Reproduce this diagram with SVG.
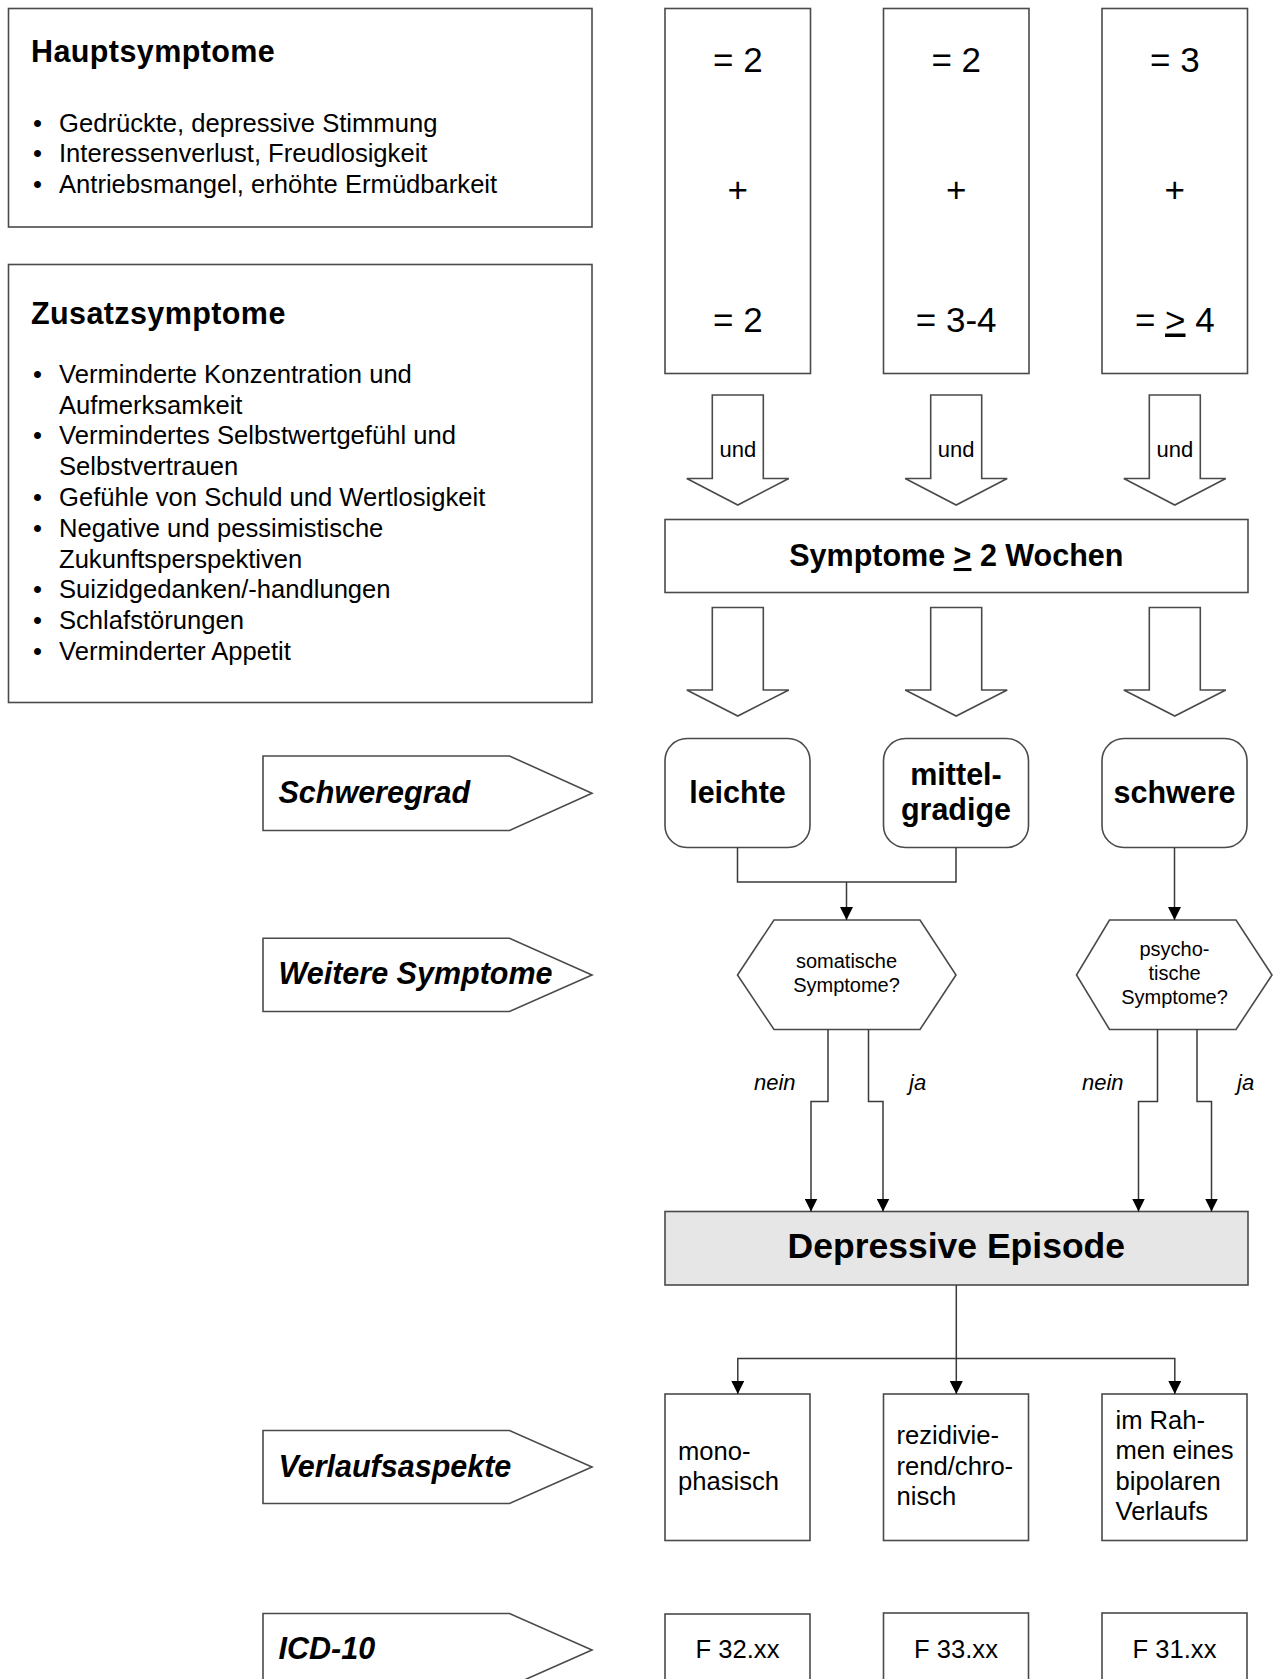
<svg xmlns="http://www.w3.org/2000/svg" width="1273" height="1679" viewBox="0 0 1273 1679">
<style>
.box{fill:#fff;stroke:#4a4a4a;stroke-width:1.6}
.grey{fill:#e6e6e6;stroke:#4a4a4a;stroke-width:1.6}
.ln{fill:none;stroke:#3a3a3a;stroke-width:1.5}
.t{font-family:"Liberation Sans",Arial,sans-serif;fill:#000}
.reg{font-size:25.6px}
.b{font-weight:bold;font-size:30.5px}
.bi{font-weight:bold;font-style:italic;font-size:30.5px}
.big{font-weight:bold;font-size:35.5px}
.num{font-size:35px}
.und{font-size:22px}
.hx{font-size:20px}
.it{font-style:italic;font-size:22px}
.c{text-anchor:middle}
</style>
<defs>
<marker id="ah" viewBox="0 0 10 10" refX="10" refY="5" markerWidth="13" markerHeight="13" markerUnits="userSpaceOnUse" orient="auto">
<path d="M0,0 L10,5 L0,10 z" fill="#000"/>
</marker>
</defs>
<rect width="1273" height="1679" fill="#fff"/>

<g id="hauptsymptome">
<rect class="box" x="8.5" y="8.5" width="583.5" height="218.5"/>
<text class="t b" x="31" y="61.5" style="letter-spacing:0.4px">Hauptsymptome</text>
<text class="t reg c" x="37.5" y="131.7">•</text>
<text class="t reg" x="59" y="131.7">Gedrückte, depressive Stimmung</text>
<text class="t reg c" x="37.5" y="162">•</text>
<text class="t reg" x="59" y="162">Interessenverlust, Freudlosigkeit</text>
<text class="t reg c" x="37.5" y="192.7">•</text>
<text class="t reg" x="59" y="192.7">Antriebsmangel, erhöhte Ermüdbarkeit</text>
</g>

<g id="zusatzsymptome">
<rect class="box" x="8.5" y="264.5" width="583.5" height="438"/>
<text class="t b" x="31" y="324" style="letter-spacing:0.4px">Zusatzsymptome</text>
<text class="t reg c" x="37.5" y="382.7">•</text>
<text class="t reg" x="59" y="382.7">Verminderte Konzentration und</text>
<text class="t reg" x="59" y="413.5">Aufmerksamkeit</text>
<text class="t reg c" x="37.5" y="444.3">•</text>
<text class="t reg" x="59" y="444.3">Vermindertes Selbstwertgefühl und</text>
<text class="t reg" x="59" y="475.1">Selbstvertrauen</text>
<text class="t reg c" x="37.5" y="505.9">•</text>
<text class="t reg" x="59" y="505.9">Gefühle von Schuld und Wertlosigkeit</text>
<text class="t reg c" x="37.5" y="536.7">•</text>
<text class="t reg" x="59" y="536.7">Negative und pessimistische</text>
<text class="t reg" x="59" y="567.5">Zukunftsperspektiven</text>
<text class="t reg c" x="37.5" y="598.3">•</text>
<text class="t reg" x="59" y="598.3">Suizidgedanken/-handlungen</text>
<text class="t reg c" x="37.5" y="629.1">•</text>
<text class="t reg" x="59" y="629.1">Schlafstörungen</text>
<text class="t reg c" x="37.5" y="659.9">•</text>
<text class="t reg" x="59" y="659.9">Verminderter Appetit</text>
</g>

<g id="kriterien-leicht">
<rect class="box" x="665" y="8.5" width="145.5" height="365"/>
<text class="t num c" x="737.8" y="71.5">= 2</text>
<text class="t num c" x="737.8" y="202">+</text>
<text class="t num c" x="737.8" y="331.5">= 2</text>
</g>
<g id="kriterien-mittel">
<rect class="box" x="883.5" y="8.5" width="145.5" height="365"/>
<text class="t num c" x="956.2" y="71.5">= 2</text>
<text class="t num c" x="956.2" y="202">+</text>
<text class="t num c" x="956.2" y="331.5">= 3-4</text>
</g>
<g id="kriterien-schwer">
<rect class="box" x="1102" y="8.5" width="145.5" height="365"/>
<text class="t num c" x="1174.8" y="71.5">= 3</text>
<text class="t num c" x="1174.8" y="202">+</text>
<text class="t num c" x="1174.8" y="331.5">= <tspan text-decoration="underline">&gt;</tspan> 4</text>
</g>

<g id="und-pfeile">
<polygon class="box" points="712.3,395 763.3,395 763.3,478.5 788.8,478.5 737.8,505 686.8,478.5 712.3,478.5"/>
<text class="t und c" x="737.8" y="457">und</text>
<polygon class="box" points="930.7,395 981.7,395 981.7,478.5 1007.2,478.5 956.2,505 905.2,478.5 930.7,478.5"/>
<text class="t und c" x="956.2" y="457">und</text>
<polygon class="box" points="1149.3,395 1200.3,395 1200.3,478.5 1225.8,478.5 1174.8,505 1123.8,478.5 1149.3,478.5"/>
<text class="t und c" x="1174.8" y="457">und</text>
</g>

<g id="dauer">
<rect class="box" x="665" y="519.5" width="583" height="73"/>
<text class="t b c" x="956.3" y="566">Symptome <tspan text-decoration="underline">&gt;</tspan> 2 Wochen</text>
</g>

<g id="block-pfeile">
<polygon class="box" points="712.3,607.5 763.3,607.5 763.3,690 788.8,690 737.8,716 686.8,690 712.3,690"/>
<polygon class="box" points="930.7,607.5 981.7,607.5 981.7,690 1007.2,690 956.2,716 905.2,690 930.7,690"/>
<polygon class="box" points="1149.3,607.5 1200.3,607.5 1200.3,690 1225.8,690 1174.8,716 1123.8,690 1149.3,690"/>
</g>

<g id="label-schweregrad">
<polygon class="box" points="263,756 509.5,756 592,793.3 509.5,830.5 263,830.5"/>
<text class="t bi" x="278.5" y="803">Schweregrad</text>
</g>
<g id="leichte">
<rect class="box" x="665" y="738.5" width="145" height="109" rx="22"/>
<text class="t b c" x="737.5" y="802.5">leichte</text>
</g>
<g id="mittelgradige">
<rect class="box" x="883.5" y="738.5" width="145" height="109" rx="22"/>
<text class="t b c" x="956" y="785">mittel-</text>
<text class="t b c" x="956" y="820">gradige</text>
</g>
<g id="schwere">
<rect class="box" x="1102" y="738.5" width="145" height="109" rx="22"/>
<text class="t b c" x="1174.5" y="802.5">schwere</text>
</g>

<g id="label-weitere">
<polygon class="box" points="263,938.3 509.5,938.3 592,975 509.5,1011.5 263,1011.5"/>
<text class="t bi" x="278.5" y="984">Weitere Symptome</text>
</g>
<g id="somatische">
<polygon class="box" points="774,920 920,920 956,975 920,1029.5 774,1029.5 737.5,975"/>
<text class="t hx c" x="846.5" y="968">somatische</text>
<text class="t hx c" x="846.5" y="991.5">Symptome?</text>
</g>
<g id="psychotische">
<polygon class="box" points="1109.5,920 1236,920 1272,975 1236,1029.5 1109.5,1029.5 1076.5,975"/>
<text class="t hx c" x="1174.5" y="956">psycho-</text>
<text class="t hx c" x="1174.5" y="980">tische</text>
<text class="t hx c" x="1174.5" y="1004">Symptome?</text>
</g>

<g id="depressive-episode">
<rect class="grey" x="665" y="1211.5" width="583" height="73.5"/>
<text class="t big c" x="956.3" y="1258">Depressive Episode</text>
</g>

<g id="label-verlauf">
<polygon class="box" points="263,1430.5 509.5,1430.5 592,1467 509.5,1503.5 263,1503.5"/>
<text class="t bi" x="278.5" y="1477">Verlaufsaspekte</text>
</g>
<g id="monophasisch">
<rect class="box" x="665" y="1394" width="145" height="146.5"/>
<text class="t reg" x="678" y="1459.5">mono-</text>
<text class="t reg" x="678" y="1489.5">phasisch</text>
</g>
<g id="rezidivierend">
<rect class="box" x="883.5" y="1394" width="145" height="146.5"/>
<text class="t reg" x="896.5" y="1444">rezidivie-</text>
<text class="t reg" x="896.5" y="1474.5">rend/chro-</text>
<text class="t reg" x="896.5" y="1505">nisch</text>
</g>
<g id="bipolar">
<rect class="box" x="1102" y="1394" width="145" height="146.5"/>
<text class="t reg" x="1115.5" y="1428.5">im Rah-</text>
<text class="t reg" x="1115.5" y="1459">men eines</text>
<text class="t reg" x="1115.5" y="1489.5">bipolaren</text>
<text class="t reg" x="1115.5" y="1520">Verlaufs</text>
</g>

<g id="label-icd">
<polygon class="box" points="263,1613.5 509.5,1613.5 592,1650 509.5,1686.5 263,1686.5"/>
<text class="t bi" x="278.5" y="1659">ICD-10</text>
</g>
<g id="f32">
<rect class="box" x="665" y="1614" width="145" height="100"/>
<text class="t reg c" x="737.5" y="1658">F 32.xx</text>
</g>
<g id="f33">
<rect class="box" x="883.5" y="1613" width="145" height="100"/>
<text class="t reg c" x="956" y="1658">F 33.xx</text>
</g>
<g id="f31">
<rect class="box" x="1102" y="1613" width="145" height="100"/>
<text class="t reg c" x="1174.5" y="1658">F 31.xx</text>
</g>

<g id="connectors">
<path class="ln" d="M737.5,847.5 V882 H956 V847.5"/>
<path class="ln" d="M846.5,882 V920" marker-end="url(#ah)"/>
<path class="ln" d="M1174.5,847.5 V920" marker-end="url(#ah)"/>
<path class="ln" d="M828,1029.5 V1101.5 H811 V1211.5" marker-end="url(#ah)"/>
<path class="ln" d="M868.5,1029.5 V1101.5 H883 V1211.5" marker-end="url(#ah)"/>
<path class="ln" d="M1157.5,1029.5 V1101.5 H1138.5 V1211.5" marker-end="url(#ah)"/>
<path class="ln" d="M1197,1029.5 V1101.5 H1211.5 V1211.5" marker-end="url(#ah)"/>
<text class="t it" x="754" y="1090">nein</text>
<text class="t it" x="909" y="1090">ja</text>
<text class="t it" x="1082" y="1090">nein</text>
<text class="t it" x="1237" y="1090">ja</text>
<path class="ln" d="M956.3,1285 V1394" marker-end="url(#ah)"/>
<path class="ln" d="M956.3,1358.5 H737.8 V1394" marker-end="url(#ah)"/>
<path class="ln" d="M956.3,1358.5 H1174.8 V1394" marker-end="url(#ah)"/>
</g>
</svg>
